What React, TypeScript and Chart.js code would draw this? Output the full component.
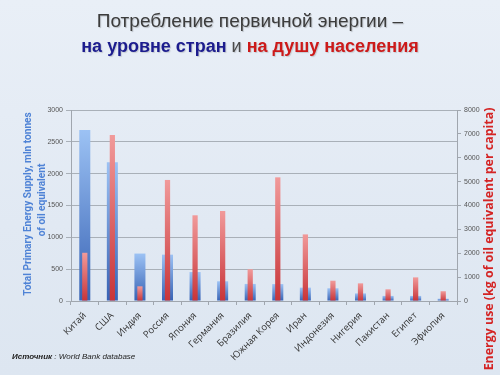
import React, { useEffect, useRef } from "react";
import { Chart, registerables } from "chart.js";

Chart.register(...registerables);

const countries = [
  "Китай", "США", "Индия", "Россия", "Япония", "Германия", "Бразилия",
  "Южная Корея", "Иран", "Индонезия", "Нигерия", "Пакистан", "Египет", "Эфиопия",
];
// Total Primary Energy Supply, mln tonnes of oil equivalent (left axis)
const totalSupply = [2685, 2180, 745, 728, 455, 310, 268, 266, 210, 200, 120, 80, 80, 36];
// Energy use, kg of oil equivalent per capita (right axis)
const perCapita = [2020, 6950, 615, 5070, 3590, 3770, 1330, 5180, 2790, 850, 740, 490, 990, 410];

const leftTitle1 = "Total Primary Energy Supply, mln tonnes";
const leftTitle2 = "of oil equivalent";
const rightTitle = "Energy use (kg of oil equivalent per capita)";

const leftTitleFamily = "'Liberation Sans Narrow', Roboto, sans-serif";
const rightTitleFamily = "'Open Sans', sans-serif";

function barGradient(ctx: any, c1: string, c2: string) {
  const chart = ctx.chart;
  if (ctx.type !== "data" || !chart.chartArea) return c2;
  const axisId = ctx.dataset.yAxisID;
  const scale = chart.scales[axisId];
  if (!scale) return c2;
  const v = ctx.raw as number;
  const top = scale.getPixelForValue(v);
  const bottom = scale.getPixelForValue(0);
  if (!isFinite(top) || !isFinite(bottom) || bottom - top < 1) return c2;
  const g = chart.ctx.createLinearGradient(0, top, 0, bottom);
  g.addColorStop(0, c1);
  g.addColorStop(1, c2);
  return g;
}

function fitText(ctx: CanvasRenderingContext2D, text: string, target: number, weight: string, family: string) {
  ctx.font = `${weight} 20px ${family}`;
  const w = ctx.measureText(text).width;
  const size = (20 * target) / w;
  ctx.font = `${weight} ${size}px ${family}`;
}

const axisTitlesPlugin = {
  id: "axisTitlesPlugin",
  afterDraw(chart: any) {
    const ctx: CanvasRenderingContext2D = chart.ctx;
    ctx.save();
    ctx.textAlign = "center";
    ctx.textBaseline = "middle";
    // left title
    ctx.save();
    ctx.translate(28, 204);
    ctx.rotate(-Math.PI / 2);
    ctx.fillStyle = "#4f83d6";
    fitText(ctx, leftTitle1, 184, "bold", leftTitleFamily);
    ctx.fillText(leftTitle1, 0, 0);
    ctx.restore();
    ctx.save();
    ctx.translate(42, 200);
    ctx.rotate(-Math.PI / 2);
    ctx.fillStyle = "#4f83d6";
    fitText(ctx, leftTitle1, 184, "bold", leftTitleFamily);
    ctx.fillText(leftTitle2, 0, 0);
    ctx.restore();
    // right title
    ctx.save();
    ctx.translate(489, 239);
    ctx.rotate(-Math.PI / 2);
    ctx.fillStyle = "#d42424";
    fitText(ctx, rightTitle, 263, "bold", rightTitleFamily);
    ctx.fillText(rightTitle, 0, 0);
    ctx.restore();
    ctx.restore();
  },
};

export default function App() {
  const canvasRef = useRef<HTMLCanvasElement | null>(null);

  useEffect(() => {
    const canvas = canvasRef.current;
    if (!canvas) return;
    const chart = new Chart(canvas, {
      type: "bar",
      data: {
        labels: countries,
        datasets: [
          {
            label: "Energy use per capita",
            data: perCapita,
            yAxisID: "yRight",
            grouped: false,
            order: 0,
            categoryPercentage: 1,
            barPercentage: 0.19,
            backgroundColor: (c: any) => barGradient(c, "#f19a9a", "#c83438"),
            borderWidth: 0,
          },
          {
            label: "Total Primary Energy Supply",
            data: totalSupply,
            yAxisID: "y",
            grouped: false,
            order: 1,
            categoryPercentage: 1,
            barPercentage: 0.4,
            backgroundColor: (c: any) => barGradient(c, "#9cc2f4", "#3762b4"),
            borderWidth: 0,
          },
        ],
      } as any,
      options: {
        responsive: false,
        animation: false,
        layout: { padding: { top: 110, left: 0, right: 0, bottom: 0 } },
        plugins: {
          legend: { display: false },
          tooltip: { enabled: false },
          title: { display: false },
        },
        scales: {
          x: {
            afterFit: (s: any) => { s.height = 74; },
            grid: { display: true, drawOnChartArea: false, tickLength: 4, color: "#a0a6ae", offset: true },
            border: { display: true, color: "#a0a6ae" },
            ticks: {
              minRotation: 45,
              maxRotation: 45,
              autoSkip: false,
              padding: 5,
              color: "#333",
              font: { family: "'Open Sans'", size: 9.5 },
            },
          },
          y: {
            position: "left",
            min: 0,
            max: 3000,
            afterFit: (s: any) => { s.width = 71; },
            grid: { color: "#a9b0b8", tickLength: 5, lineWidth: 1 },
            border: { display: true, color: "#a0a6ae" },
            ticks: {
              stepSize: 500,
              padding: 3,
              color: "#555",
              font: { family: "'Liberation Sans'", size: 7 },
              callback: (v: any) => String(v),
            },
          },
          yRight: {
            position: "right",
            min: 0,
            max: 8000,
            afterFit: (s: any) => { s.width = 43; },
            grid: { drawOnChartArea: false, tickLength: 4, color: "#a0a6ae" },
            border: { display: true, color: "#a0a6ae" },
            ticks: {
              stepSize: 1000,
              padding: 3,
              color: "#555",
              font: { family: "'Liberation Sans'", size: 7 },
              callback: (v: any) => String(v),
            },
          },
        },
      } as any,
      plugins: [axisTitlesPlugin],
    });
    return () => chart.destroy();
  }, []);

  return (
    <div
      style={{
        position: "fixed",
        left: 0,
        top: 0,
        width: 500,
        height: 375,
        overflow: "hidden",
        background: "linear-gradient(180deg, #e9eff7 0%, #e1e9f3 60%, #dde6f1 100%)",
        fontFamily: "'Liberation Sans', Arial, sans-serif",
      }}
    >
      <canvas
        ref={canvasRef}
        width={500}
        height={375}
        style={{ position: "absolute", left: 0, top: 0, width: 500, height: 375 }}
      />
      <div
        style={{
          position: "absolute",
          top: 9,
          left: 0,
          width: 500,
          textAlign: "center",
          fontSize: 19,
          lineHeight: "24px",
          color: "#3c3c3c",
          textShadow: "1px 1px 1px rgba(0,0,0,0.2)",
        }}
      >
        Потребление первичной энергии –
      </div>
      <div
        style={{
          position: "absolute",
          top: 34,
          left: 0,
          width: 500,
          textAlign: "center",
          fontSize: 18,
          lineHeight: "24px",
          textShadow: "1px 1px 1px rgba(0,0,0,0.15)",
        }}
      >
        <span style={{ color: "#1c1c8e", fontWeight: "bold" }}>на уровне стран</span>
        <span style={{ color: "#4a4a4a" }}> и </span>
        <span style={{ color: "#cc1a1a", fontWeight: "bold" }}>на душу населения</span>
      </div>
      <div
        style={{
          position: "absolute",
          left: 12,
          top: 352,
          fontSize: 8,
          color: "#222",
          fontStyle: "italic",
        }}
      >
        <span style={{ fontWeight: "bold" }}>Источник</span> : World Bank database
      </div>
    </div>
  );
}
